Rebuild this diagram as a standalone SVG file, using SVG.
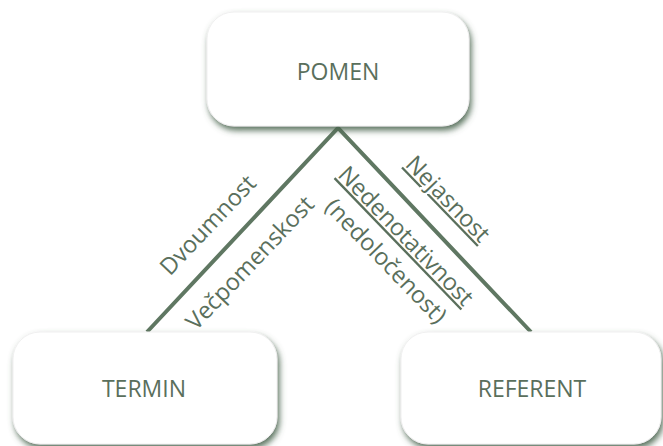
<svg xmlns="http://www.w3.org/2000/svg" width="663" height="446" viewBox="0 0 663 446">
<style>
.box{fill:#ffffff;stroke:#f0f0f0;stroke-width:1;filter:url(#sh)}
.nt{font-family:"Open Sans","Noto Sans",sans-serif;font-size:23px;fill:#5a6f5c;text-anchor:middle}
.lb{font-family:"Open Sans","Noto Sans",sans-serif;font-size:23.5px;fill:#5a6f5c;text-anchor:middle}
.ul{text-decoration:underline}
.ln{stroke:#5f7762;stroke-width:4;fill:none}
</style>
<defs>
<filter id="sh" x="-10%" y="-10%" width="120%" height="130%">
<feDropShadow dx="2" dy="4" stdDeviation="3" flood-color="#4a634d" flood-opacity="0.9"/>
</filter>
</defs>
<g id="connectors">
<polyline class="ln" points="147,332 338,128 531,332"/>
</g>
<g id="labels">
<text class="lb" transform="translate(208,225) rotate(-46.5)" y="8">Dvoumnost</text>
<text class="lb" transform="translate(250,263) rotate(-46.5)" y="8">Večpomenskost</text>
<text class="lb ul" transform="translate(448,199) rotate(46)" y="8">Nejasnost</text>
<text class="lb ul" transform="translate(406,236) rotate(46)" y="8">Nedenotativnost</text>
<text class="lb" transform="translate(386,261) rotate(46)" y="8">(nedoločenost)</text>
</g>
<g id="pomen">
<rect class="box" x="207" y="12" width="262" height="114" rx="27"/>
<text class="nt" x="338" y="80">POMEN</text>
</g>
<g id="termin">
<rect class="box" x="13" y="332" width="264" height="112" rx="27"/>
<text class="nt" x="144" y="397">TERMIN</text>
</g>
<g id="referent">
<rect class="box" x="401" y="332" width="260" height="112" rx="27"/>
<text class="nt" x="532" y="397">REFERENT</text>
</g>
</svg>
